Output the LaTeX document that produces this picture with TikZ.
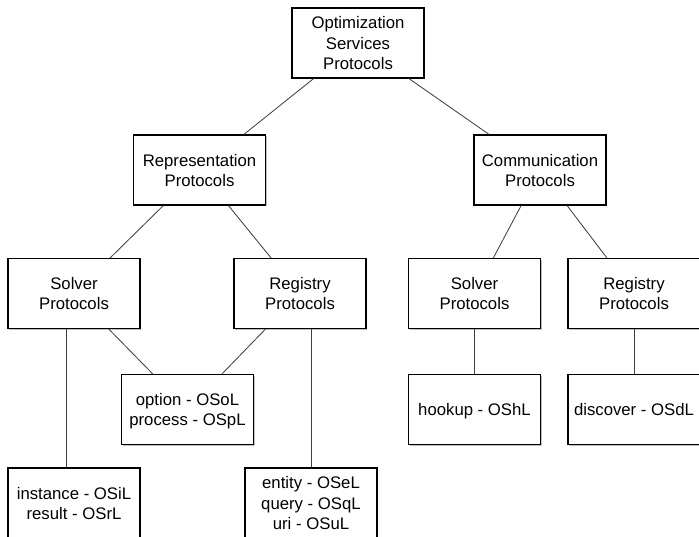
\documentclass[tikz,border=0pt]{standalone}
\usepackage{fontspec}
\setmainfont{Liberation Sans}
\usepackage{tikz}
\usetikzlibrary{positioning,shadows}

\begin{document}
\begin{tikzpicture}[
    x=0.025cm, y=-0.025cm,
    box/.style={draw, fill=white, line width=0.8pt, minimum width=3.3cm, minimum height=1.75cm, align=center,
        font=\fontsize{11.9}{14.3}\selectfont, text depth=0pt,
        drop shadow={shadow xshift=0.8pt, shadow yshift=-1pt, opacity=0.5}},
    link/.style={draw=black!75, line width=0.6pt}
]
\useasboundingbox (0,0) rectangle (699,537);
\node[box] (osp) at (358,43) {Optimization\\Services\\Protocols};
\node[box] (rep) at (199.5,170) {Representation\\Protocols};
\node[box] (com) at (540,170) {Communication\\Protocols};
\node[box] (solrep) at (74,293.5) {Solver\\Protocols};
\node[box] (regrep) at (300,293.5) {Registry\\Protocols};
\node[box] (solcom) at (474.5,293.5) {Solver\\Protocols};
\node[box] (regcom) at (634,293.5) {Registry\\Protocols};
\node[box] (opt) at (187.5,409.5) {option - OSoL\\process - OSpL};
\node[box] (hook) at (474.5,409.5) {hookup - OShL};
\node[box] (disc) at (634,409.5) {discover - OSdL};
\node[box] (inst) at (74,503) {instance - OSiL\\result - OSrL};
\node[box] (ent) at (311,503) {entity - OSeL\\query - OSqL\\uri - OSuL};
\draw[link] (osp) -- (rep);
\draw[link] (osp) -- (com);
\draw[link] (rep) -- (solrep);
\draw[link] (rep) -- (regrep);
\draw[link] (com) -- (solcom);
\draw[link] (com) -- (regcom);
\draw[link] (solrep) -- (opt);
\draw[link] (regrep) -- (opt);
\draw[link] ([xshift=-0.18cm]inst.north) -- ([xshift=-0.18cm]inst.north |- solrep.south);
\draw[link] (ent.north) -- (ent.north |- regrep.south);
\draw[link] (solcom) -- (hook);
\draw[link] (regcom) -- (disc);
\end{tikzpicture}
\end{document}
